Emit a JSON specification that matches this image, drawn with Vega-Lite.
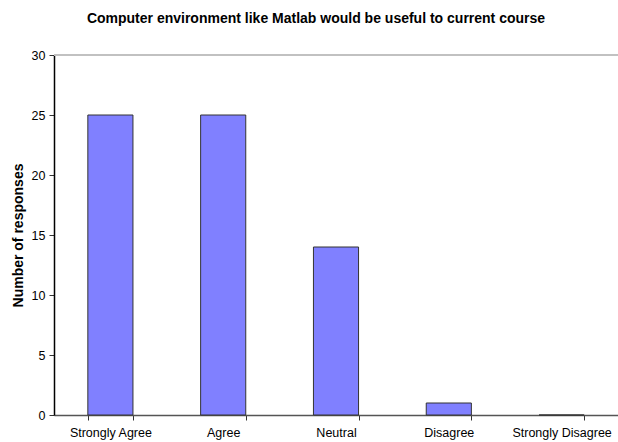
{
  "$schema": "https://vega.github.io/schema/vega-lite/v6.json",
  "autosize": {"type": "none"},
  "padding": {"left": 54, "top": 55, "right": 0, "bottom": 27},
  "width": 564,
  "height": 360,
  "background": "white",
  "config": {
    "font": "Liberation Sans",
    "view": {"stroke": null}
  },
  "title": {
    "text": "Computer environment like Matlab would be useful to current course",
    "fontSize": 14,
    "fontWeight": "bold",
    "font": "Liberation Sans",
    "color": "black",
    "anchor": "middle",
    "baseline": "alphabetic",
    "dx": -20,
    "offset": 12
  },
  "data": {
    "values": [
      {"response": "Strongly Agree", "count": 25},
      {"response": "Agree", "count": 25},
      {"response": "Neutral", "count": 14},
      {"response": "Disagree", "count": 1},
      {"response": "Strongly Disagree", "count": 0}
    ]
  },
  "layer": [
    {
      "mark": {"type": "rule", "color": "#c0c0c0", "strokeWidth": 1.5},
      "encoding": {"y": {"datum": 30, "type": "quantitative"}}
    },
    {
      "mark": {"type": "bar", "fill": "#8080ff", "stroke": "#333333", "strokeWidth": 1},
      "encoding": {
        "x": {
          "field": "response",
          "type": "nominal",
          "sort": null,
          "scale": {"paddingInner": 0.6, "paddingOuter": 0.3},
          "axis": {
            "title": null,
            "labelAngle": 0,
            "labelFontSize": 12.5,
            "labelColor": "black",
            "labelPadding": 6,
            "domainColor": "#555555",
            "domainWidth": 1.5,
            "tickColor": "#333333",
            "tickSize": 5,
            "tickBand": "extent",
            "labelFont": "Liberation Sans"
          }
        },
        "y": {
          "field": "count",
          "type": "quantitative",
          "scale": {"domain": [0, 30], "nice": false},
          "axis": {
            "title": "Number of responses",
            "titleFontSize": 14,
            "titleFontWeight": "bold",
            "titleColor": "black",
            "titlePadding": 6,
            "titleFont": "Liberation Sans",
            "values": [0, 5, 10, 15, 20, 25, 30],
            "grid": false,
            "labelFontSize": 12.5,
            "labelColor": "black",
            "labelPadding": 4,
            "labelFont": "Liberation Sans",
            "domainColor": "black",
            "domainWidth": 1.5,
            "tickColor": "#333333",
            "tickSize": 5
          }
        }
      }
    }
  ]
}
